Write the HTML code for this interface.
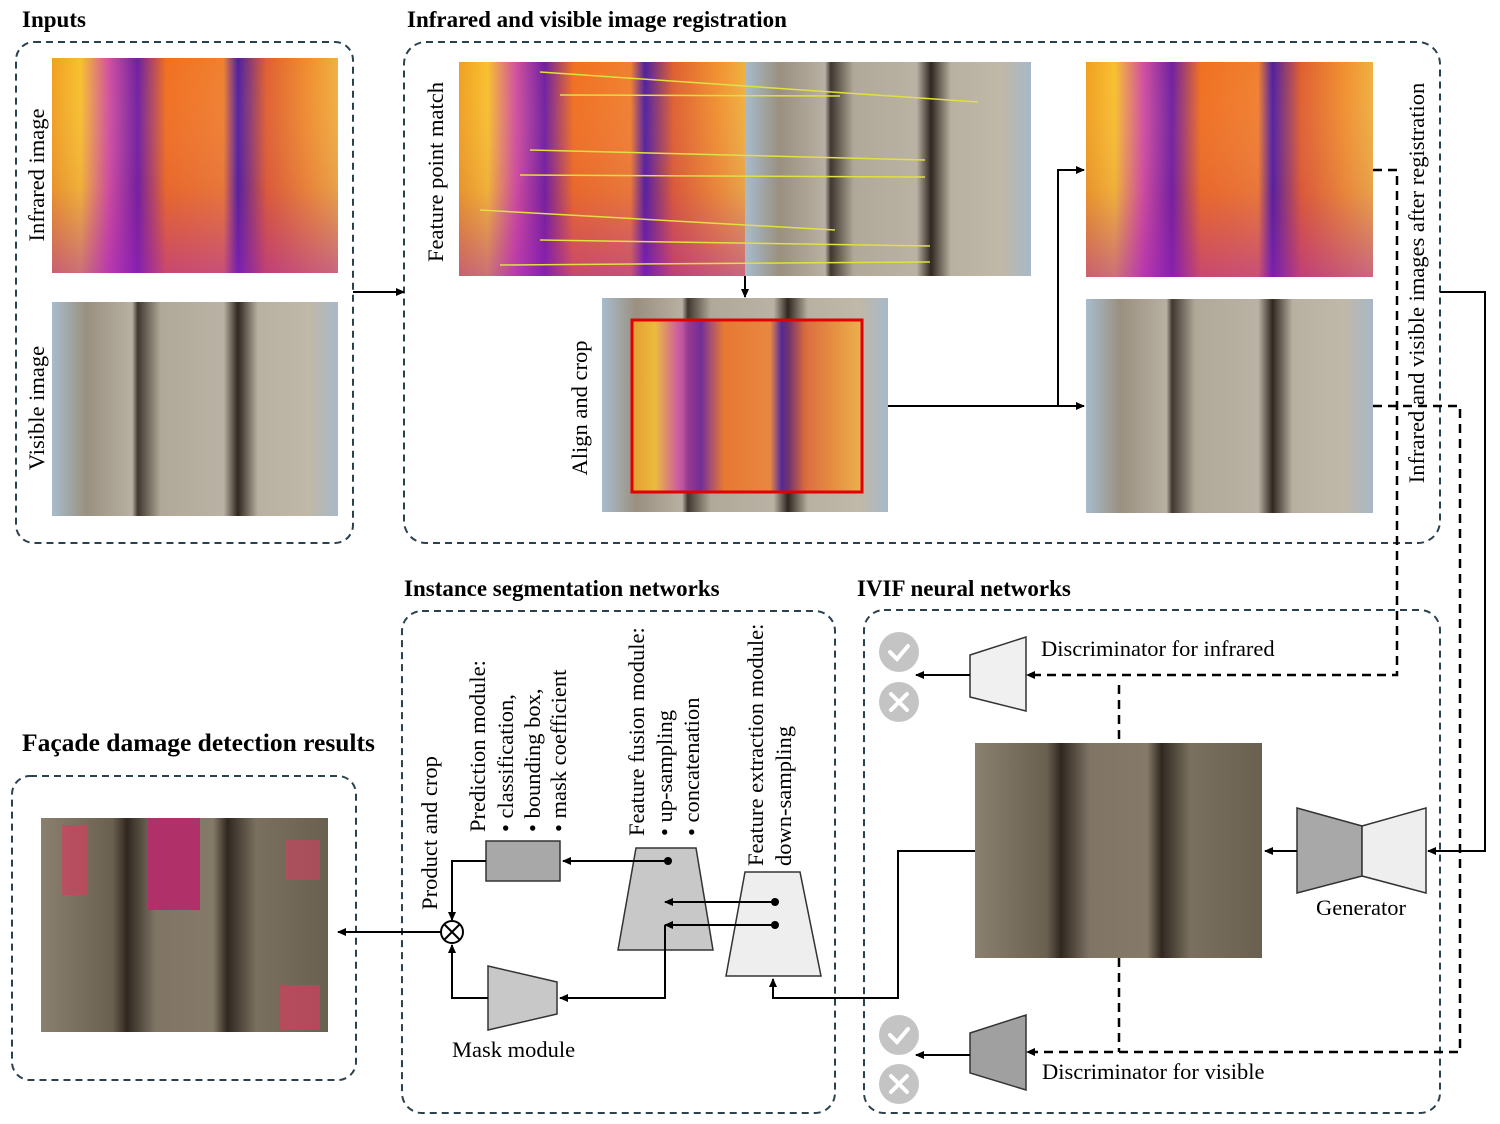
<!DOCTYPE html>
<html><head><meta charset="utf-8"><style>
html,body{margin:0;padding:0;background:#fff;}
svg{display:block;font-family:"Liberation Serif",serif;}
</style></head><body>
<svg width="1500" height="1124" viewBox="0 0 1500 1124" xmlns="http://www.w3.org/2000/svg">
<defs>
<linearGradient id="ir" x1="0" x2="1" y1="0" y2="0">
<stop offset="0" stop-color="#f0a020"/><stop offset="0.1" stop-color="#f8c030"/><stop offset="0.2" stop-color="#d050a0"/><stop offset="0.3" stop-color="#7020a0"/><stop offset="0.4" stop-color="#f07020"/><stop offset="0.6" stop-color="#f08030"/><stop offset="0.65" stop-color="#5020a0"/><stop offset="0.75" stop-color="#e06030"/><stop offset="0.9" stop-color="#f09030"/><stop offset="1" stop-color="#f0b040"/>
</linearGradient>
<linearGradient id="irv" x1="0" x2="0" y1="0" y2="1">
<stop offset="0" stop-color="#fff" stop-opacity="0"/><stop offset="0.6" stop-color="#a020a0" stop-opacity="0.1"/><stop offset="1" stop-color="#a020c0" stop-opacity="0.5"/>
</linearGradient>
<linearGradient id="vis" x1="0" x2="1" y1="0" y2="0">
<stop offset="0" stop-color="#a8bccc"/><stop offset="0.12" stop-color="#9a9080"/><stop offset="0.28" stop-color="#b8b0a2"/><stop offset="0.3" stop-color="#403830"/><stop offset="0.38" stop-color="#b0a898"/><stop offset="0.6" stop-color="#bab2a4"/><stop offset="0.65" stop-color="#302820"/><stop offset="0.72" stop-color="#b8b0a0"/><stop offset="0.9" stop-color="#c0b8a8"/><stop offset="1" stop-color="#a8b8c8"/>
</linearGradient>
<linearGradient id="fus" x1="0" x2="1" y1="0" y2="0">
<stop offset="0" stop-color="#8a8070"/><stop offset="0.25" stop-color="#6a6050"/><stop offset="0.3" stop-color="#302820"/><stop offset="0.4" stop-color="#807565"/><stop offset="0.6" stop-color="#857a68"/><stop offset="0.65" stop-color="#302820"/><stop offset="0.75" stop-color="#7a7060"/><stop offset="1" stop-color="#6a6050"/>
</linearGradient>
<marker id="a" markerWidth="10" markerHeight="10" refX="8" refY="5" orient="auto" markerUnits="userSpaceOnUse"><path d="M0,1 L9,5 L0,9 z" fill="#000"/></marker>
</defs>
<g fill="none" stroke="#2a4150" stroke-width="2" stroke-dasharray="7,5">
<rect x="16" y="42" width="337" height="501" rx="18"/>
<rect x="404" y="42" width="1036" height="501" rx="22"/>
<rect x="402" y="611" width="433" height="502" rx="20"/>
<rect x="864" y="610" width="576" height="503" rx="20"/>
<rect x="12" y="776" width="344" height="304" rx="18"/>
</g>
<g font-weight="bold" font-size="23" fill="#000">
<text x="22" y="27">Inputs</text>
<text x="407" y="27">Infrared and visible image registration</text>
<text x="404" y="596">Instance segmentation networks</text>
<text x="857" y="596">IVIF neural networks</text>
<text x="22" y="751" font-size="25.5">Façade damage detection results</text>
</g>
<rect x="52" y="58" width="286" height="215" fill="url(#ir)"/><rect x="52" y="58" width="286" height="215" fill="url(#irv)"/>
<rect x="52" y="302" width="286" height="214" fill="url(#vis)"/>
<rect x="459" y="62" width="286" height="214" fill="url(#ir)"/><rect x="459" y="62" width="286" height="214" fill="url(#irv)"/>
<rect x="745" y="62" width="286" height="214" fill="url(#vis)"/>
<g stroke="#e0e040" stroke-width="1.5">
<line x1="540" y1="72" x2="978" y2="102"/><line x1="530" y1="150" x2="925" y2="160"/><line x1="520" y1="175" x2="925" y2="177"/><line x1="480" y1="210" x2="835" y2="230"/><line x1="540" y1="240" x2="930" y2="246"/><line x1="500" y1="265" x2="930" y2="262"/><line x1="560" y1="95" x2="840" y2="96"/>
</g>
<rect x="602" y="298" width="286" height="214" fill="url(#vis)"/>
<rect x="632" y="320" width="230" height="172" fill="url(#ir)" opacity="0.85"/>
<rect x="632" y="320" width="230" height="172" fill="none" stroke="#e00000" stroke-width="3"/>
<rect x="1086" y="62" width="287" height="215" fill="url(#ir)"/><rect x="1086" y="62" width="287" height="215" fill="url(#irv)"/>
<rect x="1086" y="299" width="287" height="214" fill="url(#vis)"/>
<rect x="975" y="743" width="287" height="215" fill="url(#fus)"/>
<rect x="41" y="818" width="287" height="214" fill="url(#fus)"/>
<rect x="148" y="818" width="52" height="92" fill="#b0306a"/>
<rect x="62" y="825" width="25" height="70" fill="#d04060" opacity="0.7"/>
<rect x="280" y="985" width="40" height="45" fill="#d04060" opacity="0.7"/>
<rect x="285" y="840" width="35" height="40" fill="#d04060" opacity="0.6"/>
<g font-size="22.5" fill="#000">
<text transform="translate(44,175) rotate(-90)" text-anchor="middle">Infrared image</text>
<text transform="translate(44,408) rotate(-90)" text-anchor="middle">Visible image</text>
<text transform="translate(443,172) rotate(-90)" text-anchor="middle">Feature point match</text>
<text transform="translate(587,408) rotate(-90)" text-anchor="middle">Align and crop</text>
<text transform="translate(1424,283) rotate(-90)" text-anchor="middle">Infrared and visible images after registration</text>
<text transform="translate(437,833) rotate(-90)" text-anchor="middle">Product and crop</text>
<text transform="translate(485,832) rotate(-90)">Prediction module:</text>
<text transform="translate(513,832) rotate(-90)">• classification,</text>
<text transform="translate(540,832) rotate(-90)">• bounding box,</text>
<text transform="translate(566,832) rotate(-90)">• mask coefficient</text>
<text transform="translate(644,836) rotate(-90)">Feature fusion module:</text>
<text transform="translate(672,836) rotate(-90)">• up-sampling</text>
<text transform="translate(699,836) rotate(-90)">• concatenation</text>
<text transform="translate(763,866) rotate(-90)">Feature extraction module:</text>
<text transform="translate(791,866) rotate(-90)">down-sampling</text>
<text x="1041" y="656">Discriminator for infrared</text>
<text x="1042" y="1079">Discriminator for visible</text>
<text x="1316" y="915">Generator</text>
<text x="452" y="1057">Mask module</text>
</g>
<g stroke="#333" stroke-width="1.5">
<polygon points="970,655 1026,637 1026,711 970,697" fill="#f0f0f0"/>
<polygon points="970,1033 1026,1015 1026,1090 970,1073" fill="#a0a0a0"/>
<polygon points="1297,808 1362,826 1362,876 1297,893" fill="#a8a8a8"/>
<polygon points="1362,826 1426,808 1426,893 1362,876" fill="#eeeeee"/>
<polygon points="745,872 800,872 821,976 726,976" fill="#eeeeee"/>
<polygon points="636,848 696,848 713,950 618,950" fill="#c8c8c8"/>
<rect x="486" y="841" width="74" height="40" fill="#a8a8a8"/>
<polygon points="488,966 557,982 557,1014 488,1030" fill="#c8c8c8"/>
</g>
<g fill="#c4c4c4"><circle cx="899" cy="652" r="20"/><circle cx="899" cy="702" r="20"/><circle cx="899" cy="1035" r="20"/><circle cx="899" cy="1084" r="20"/></g>
<g stroke="#fff" stroke-width="4" fill="none" stroke-linecap="round">
<path d="M890,652 l7,7 l11,-13"/><path d="M891,694 l16,16 M907,694 l-16,16"/>
<path d="M890,1035 l7,7 l11,-13"/><path d="M891,1076 l16,16 M907,1076 l-16,16"/>
</g>
<g stroke="#000" stroke-width="2" fill="none">
<line x1="353" y1="292" x2="404" y2="292" marker-end="url(#a)"/>
<line x1="745" y1="276" x2="745" y2="297" marker-end="url(#a)"/>
<line x1="888" y1="406" x2="1084" y2="406" marker-end="url(#a)"/>
<polyline points="1058,406 1058,170 1084,170" marker-end="url(#a)"/>
<polyline points="1440,292 1485,292 1485,851 1428,851" marker-end="url(#a)"/>
<line x1="1297" y1="851" x2="1265" y2="851" marker-end="url(#a)"/>
<polyline points="975,851 898,851 898,998 773,998 773,979" marker-end="url(#a)"/>
<line x1="970" y1="675" x2="916" y2="675" marker-end="url(#a)"/>
<line x1="970" y1="1055" x2="916" y2="1055" marker-end="url(#a)"/>
<line x1="668" y1="861" x2="563" y2="861" marker-end="url(#a)"/>
<line x1="775" y1="902" x2="665" y2="902" marker-end="url(#a)"/>
<line x1="775" y1="925" x2="665" y2="925" marker-end="url(#a)"/>
<polyline points="665,925 665,998 560,998" marker-end="url(#a)"/>
<polyline points="486,861 452,861 452,920" marker-end="url(#a)"/>
<polyline points="488,998 452,998 452,945" marker-end="url(#a)"/>
<line x1="441" y1="932" x2="338" y2="932" marker-end="url(#a)"/>
<circle cx="452" cy="932" r="11" fill="#fff"/>
<path d="M444,924 L460,940 M460,924 L444,940"/>
</g>
<g fill="#000"><circle cx="668" cy="861" r="4"/><circle cx="775" cy="902" r="4"/><circle cx="775" cy="925" r="4"/></g>
<g stroke="#000" stroke-width="2.5" fill="none" stroke-dasharray="9,6">
<polyline points="1373,170 1397,170 1397,675 1030,675"/>
<polyline points="1373,406 1460,406 1460,1052 1030,1052"/>
<line x1="1119" y1="685" x2="1119" y2="743"/>
<line x1="1119" y1="958" x2="1119" y2="1052"/>
</g>
<path d="M1026,675 l9,-4 v8 z M1026,1052 l9,-4 v8 z" fill="#000"/>
</svg>
</body></html>
